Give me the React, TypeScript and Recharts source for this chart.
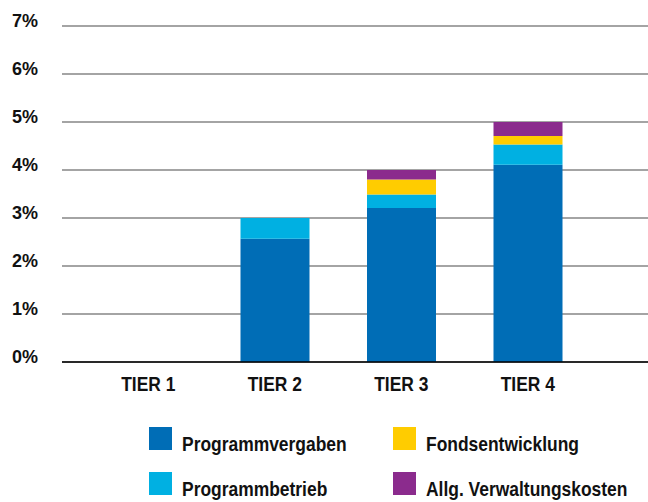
import { BarChart, Bar, XAxis, YAxis, CartesianGrid, Legend } from 'recharts'

const tiers = ['TIER 1', 'TIER 2', 'TIER 3', 'TIER 4']
const programmvergaben = [0, 2.57, 3.21, 4.11]
const programmbetrieb = [0, 0.43, 0.28, 0.42]
const fondsentwicklung = [0, 0, 0.31, 0.18]
const verwaltungskosten = [0, 0, 0.2, 0.29]
const yTicks = [0, 1, 2, 3, 4, 5, 6, 7]

const series = [
  { key: 'programmvergaben', name: 'Programmvergaben', color: '#006DB6' },
  { key: 'programmbetrieb', name: 'Programmbetrieb', color: '#00B0E2' },
  { key: 'fondsentwicklung', name: 'Fondsentwicklung', color: '#FFCC00' },
  { key: 'verwaltungskosten', name: 'Allg. Verwaltungskosten', color: '#8B2B8D' },
]

const data = tiers.map((tier, i) => ({
  tier,
  programmvergaben: programmvergaben[i],
  programmbetrieb: programmbetrieb[i],
  fondsentwicklung: fondsentwicklung[i],
  verwaltungskosten: verwaltungskosten[i],
}))

const font = '"Liberation Sans", Arial, sans-serif'
// no narrow face installed, so squeeze the regular bold horizontally
const squeeze = 0.83

// legend slots: col 1 = vergaben / betrieb, col 2 = fonds / verwaltung
const legendPos: Record<string, { left: number; top: number }> = {
  programmvergaben: { left: 149, top: 12 },
  fondsentwicklung: { left: 393, top: 12 },
  programmbetrieb: { left: 149, top: 57 },
  verwaltungskosten: { left: 393, top: 57 },
}

function LegendContent() {
  return (
    <div style={{ position: 'relative', width: 648, height: 87 }}>
      {series.map((s) => (
        <div key={s.key} style={{ position: 'absolute', ...legendPos[s.key] }}>
          <div style={{ width: 23, height: 23, background: s.color }} />
          <span
            style={{
              position: 'absolute',
              left: 33,
              top: 6,
              whiteSpace: 'nowrap',
              fontFamily: font,
              fontWeight: 700,
              fontSize: 21,
              lineHeight: '21px',
              color: '#111',
              transform: `scaleX(${squeeze})`,
              transformOrigin: 'left top',
            }}
          >
            {s.name}
          </span>
        </div>
      ))}
    </div>
  )
}

function TierTick(props: any) {
  const { x, y, payload } = props
  return (
    <g transform={`translate(${x},${y}) scale(${squeeze},1)`}>
      <text x={0} y={0} dy={15} textAnchor="middle" fill="#111" fontSize={21} fontWeight={700} fontFamily={font}>
        {payload.value}
      </text>
    </g>
  )
}

// percent labels sit just above their grid line, baseline at the line
function PercentTick(props: any) {
  const { x, y, payload } = props
  return (
    <text x={x} y={y + 1} textAnchor="end" fill="#111" fontSize={18} fontWeight={700} fontFamily={font}>
      {`${payload.value}%`}
    </text>
  )
}

export default function App() {
  return (
    <div style={{ position: 'absolute', left: 0, top: 0, width: 648, height: 502, background: '#fff' }}>
      <style>{'body{margin:0}'}</style>
      <BarChart width={648} height={502} data={data} margin={{ top: 26, right: 0, left: 0, bottom: 100 }}>
        <CartesianGrid vertical={false} stroke="#4a4a4a" strokeWidth={1.2} />
        <XAxis
          dataKey="tier"
          height={40}
          padding={{ left: 23, right: 57 }}
          axisLine={{ stroke: '#000', strokeWidth: 1.5 }}
          tickLine={false}
          tickSize={0}
          tickMargin={14}
          tick={<TierTick />}
        />
        <YAxis
          width={62}
          domain={[0, 7]}
          ticks={yTicks}
          axisLine={false}
          tickLine={false}
          tickSize={0}
          tickMargin={24}
          tick={<PercentTick />}
        />
        <Legend
          layout="horizontal"
          verticalAlign="middle"
          align="center"
          wrapperStyle={{ top: 415, left: 0, width: 648, height: 87 }}
          content={() => <LegendContent />}
        />
        {series.map((s) => (
          <Bar
            key={s.key}
            dataKey={s.key}
            name={s.name}
            stackId="a"
            fill={s.color}
            barSize={69}
            isAnimationActive={false}
          />
        ))}
      </BarChart>
    </div>
  )
}
